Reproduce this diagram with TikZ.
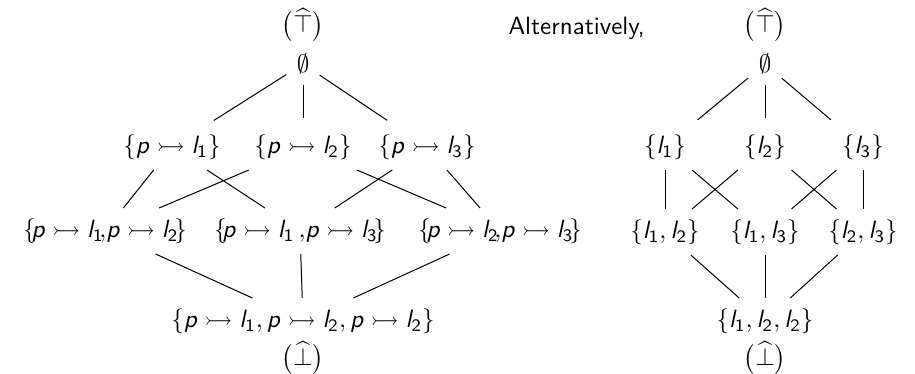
\documentclass[tikz,border=0pt]{standalone}
\usepackage{amsmath,amssymb}
% sans serif letters in math
\DeclareMathAlphabet{\mathssl}{OT1}{cmss}{m}{sl}
\SetSymbolFont{operators}{normal}{OT1}{cmss}{m}{n}
\newcommand{\pvar}{\mathssl{p}}
\newcommand{\lvar}{\mathssl{l}}
\newcommand{\mapsp}[1]{\pvar\rightarrowtail\lvar_{#1}}
\begin{document}
\begin{tikzpicture}[x=0.4pt,y=-0.4pt,font=\sffamily,
    elt/.style={inner sep=4pt},
    extremum/.style={inner sep=0pt},
    topedge/.style={shorten >=2.6pt}]
  \useasboundingbox (0,0) rectangle (915,374);
  % Lattice on the left
  \node[extremum] (ltop) at (303,25) {$\bigl(\widehat{\top}\bigr)$};
  \node[elt] (lnil) at (303,64) {$\emptyset$};
  \node[elt] (lp1) at (172,147) {$\{\mapsp{1}\}$};
  \node[elt] (lp2) at (303,147) {$\{\mapsp{2}\}$};
  \node[elt] (lp3) at (427,147) {$\{\mapsp{3}\}$};
  \node[elt] (lp12) at (105,231) {$\{\!\mapsp{1}\!,\!\mapsp{2}\!\}$};
  \node[elt] (lp13) at (300,231) {$\{\!\mapsp{1}\,,\!\mapsp{3}\!\}$};
  \node[elt] (lp23) at (500,231) {$\{\!\mapsp{2}\!,\!\mapsp{3}\!\}$};
  \node[elt] (lall) at (303,321) {$\{\mapsp{1}, \mapsp{2}, \mapsp{2}\}$};
  \node[extremum] (lbot) at (303,358) {$\bigl(\widehat{\bot}\bigr)$};
  % Edges left
  \draw[topedge] (lnil) -- (lp1);
  \draw[topedge] (lnil) -- (lp2);
  \draw[topedge] (lnil) -- (lp3);
  \draw (lp1) -- (lp12);
  \draw (lp1) -- (lp13);
  \draw (lp2) -- (lp12);
  \draw (lp2) -- (lp23);
  \draw (lp3) -- (lp13);
  \draw (lp3) -- (lp23);
  \draw (lp12) -- (lall);
  \draw (lp13) -- (lall);
  \draw (lp23) -- (lall);
  % Text
  \node[inner sep=0pt, anchor=base west] (alt) at (508,34) {Alternatively,};
  % Lattice on the right
  \node[extremum] (rtop) at (765,25) {$\bigl(\widehat{\top}\bigr)$};
  \node[elt] (rnil) at (765,64) {$\emptyset$};
  \node[elt] (r1) at (665,147) {$\{\lvar_1\}$};
  \node[elt] (r2) at (765,147) {$\{\lvar_2\}$};
  \node[elt] (r3) at (863,147) {$\{\lvar_3\}$};
  \node[elt] (r12) at (665,232) {$\{\lvar_1, \lvar_2\}$};
  \node[elt] (r13) at (765,232) {$\{\lvar_1, \lvar_3\}$};
  \node[elt] (r23) at (863,232) {$\{\lvar_2, \lvar_3\}$};
  \node[elt] (rall) at (765,321) {$\{\lvar_1, \lvar_2, \lvar_2\}$};
  \node[extremum] (rbot) at (765,358) {$\bigl(\widehat{\bot}\bigr)$};
  % Edges right
  \draw[topedge] (rnil) -- (r1);
  \draw[topedge] (rnil) -- (r2);
  \draw[topedge] (rnil) -- (r3);
  \draw (r1) -- (r12);
  \draw (r1) -- (r13);
  \draw (r2) -- (r12);
  \draw (r2) -- (r23);
  \draw (r3) -- (r13);
  \draw (r3) -- (r23);
  \draw (r12) -- (rall);
  \draw (r13) -- (rall);
  \draw (r23) -- (rall);
\end{tikzpicture}
\end{document}
